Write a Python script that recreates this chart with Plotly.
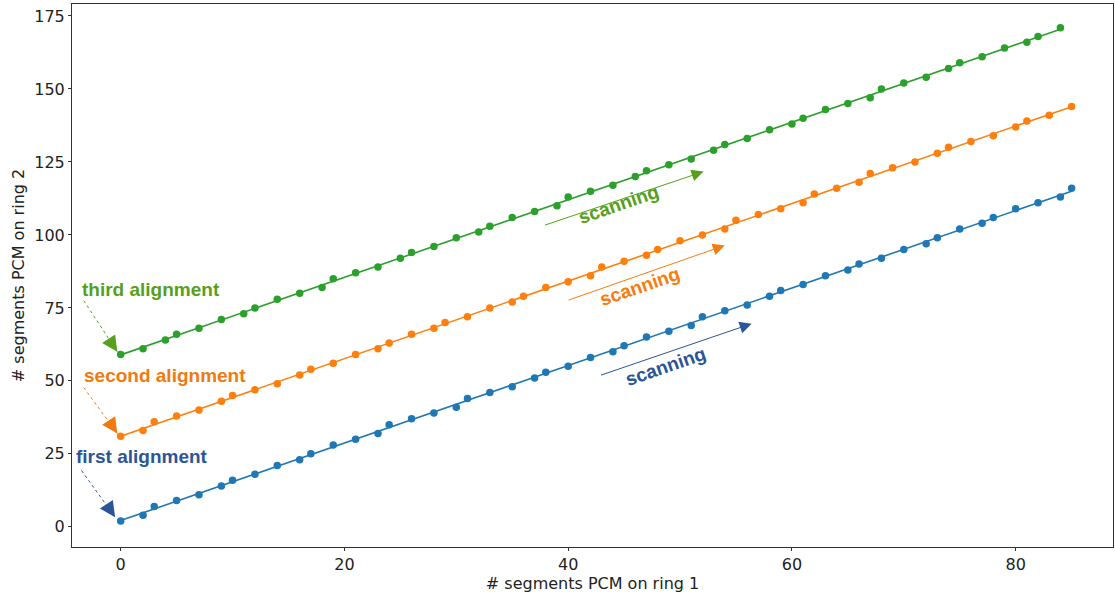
import numpy as np
import plotly.graph_objects as go

# Ring-1 / ring-2 segment counts for three successive alignments
first_x = [0, 2, 3, 5, 7, 9, 10, 12, 14, 16, 17, 19, 21, 23, 24, 26, 28, 30, 31, 33, 35, 37, 38, 40,
           42, 44, 45, 47, 49, 51, 52, 54, 56, 58, 59, 61, 63, 65, 66, 68, 70, 72, 73, 75, 77, 78,
           80, 82, 84, 85]
first_y = [2, 4, 7, 9, 11, 14, 16, 18, 21, 23, 25, 28, 30, 32, 35, 37, 39, 41, 44, 46, 48, 51, 53, 55,
           58, 60, 62, 65, 67, 69, 72, 74, 76, 79, 81, 83, 86, 88, 90, 92, 95, 97, 99, 102, 104, 106,
           109, 111, 113, 116]

second_x = [0, 2, 3, 5, 7, 9, 10, 12, 14, 16, 17, 19, 21, 23, 24, 26, 28, 29, 31, 33, 35, 36, 38, 40,
            42, 43, 45, 47, 48, 50, 52, 54, 55, 57, 59, 61, 62, 64, 66, 67, 69, 71, 73, 74, 76, 78,
            80, 81, 83, 85]
second_y = [31, 33, 36, 38, 40, 43, 45, 47, 49, 52, 54, 56, 59, 61, 63, 66, 68, 70, 72, 75, 77, 79, 82, 84,
            86, 89, 91, 93, 95, 98, 100, 102, 105, 107, 109, 111, 114, 116, 118, 121, 123, 125, 128, 130,
            132, 134, 137, 139, 141, 144]

third_x = [0, 2, 4, 5, 7, 9, 11, 12, 14, 16, 18, 19, 21, 23, 25, 26, 28, 30, 32, 33, 35, 37, 39, 40,
           42, 44, 46, 47, 49, 51, 53, 54, 56, 58, 60, 61, 63, 65, 67, 68, 70, 72, 74, 75, 77, 79,
           81, 82, 84]
third_y = [59, 61, 64, 66, 68, 71, 73, 75, 78, 80, 82, 85, 87, 89, 92, 94, 96, 99, 101, 103, 106, 108, 110, 113,
           115, 117, 120, 122, 124, 126, 129, 131, 133, 136, 138, 140, 143, 145, 147, 150, 152, 154, 157,
           159, 161, 164, 166, 168, 171]

series = [
    ("first", first_x, first_y, "#1f77b4"),
    ("second", second_x, second_y, "#ff7f0e"),
    ("third", third_x, third_y, "#2ca02c"),
]

fig = go.Figure()

for name, xs, ys, color in series:
    xs = np.asarray(xs, float)
    ys = np.asarray(ys, float)
    slope, icpt = np.polyfit(xs, ys, 1)
    fx = np.array([xs.min(), xs.max()])
    fig.add_trace(go.Scatter(x=fx, y=icpt + slope * fx, mode="lines",
                             line=dict(color=color, width=1.6), showlegend=False,
                             hoverinfo="skip"))
    fig.add_trace(go.Scatter(x=xs, y=ys, mode="markers", name=name,
                             marker=dict(color=color, size=7.5), showlegend=False))

LABEL_FONT = "Liberation Sans"

# alignment labels with dashed pointers (head drawn as a short pixel-offset arrow)
labels = [
    ("third alignment", 2.7, 81.3, "#56a01b", (-3.3, 77.5), (-0.3, 60.0)),
    ("second alignment", 4.0, 51.8, "#f07a10", (-3.3, 47.7), (-0.3, 32.0)),
    ("first alignment", 1.9, 24.2, "#2b5597", (-3.5, 19.3), (-0.5, 3.3)),
]
for text, tx, ty, col, (x0, y0), (x1, y1) in labels:
    fig.add_annotation(x=tx, y=ty, text=f"<b>{text}</b>", showarrow=False,
                       font=dict(family=LABEL_FONT, size=19, color=col))
    fig.add_shape(type="line", x0=x0, y0=y0, x1=x1, y1=y1,
                  line=dict(color=col, width=1, dash="dot"))
    fig.add_annotation(x=x1, y=y1, ax=-8, ay=-12, text="", showarrow=True,
                       arrowhead=2, arrowsize=2.6, arrowwidth=1.2, arrowcolor=col,
                       standoff=0)

# scanning arrows
scans = [
    ("scanning", 44.5, 110.3, "#56a01b", (37.8, 103.2), (52.1, 121.7)),
    ("scanning", 46.4, 82.4, "#f57d10", (39.9, 77.5), (54.0, 96.4)),
    ("scanning", 48.7, 54.9, "#2b5597", (42.8, 51.8), (56.4, 69.6)),
]
for text, tx, ty, col, (x0, y0), (x1, y1) in scans:
    fig.add_annotation(x=x1, y=y1, ax=x0, ay=y0, axref="x", ayref="y", text="",
                       showarrow=True, arrowhead=2, arrowsize=2.4, arrowwidth=1,
                       arrowcolor=col, standoff=0)
    fig.add_annotation(x=tx, y=ty, text=f"<b>{text}</b>", showarrow=False, textangle=-19,
                       font=dict(family=LABEL_FONT, size=19, color=col))

axis_common = dict(showgrid=False, zeroline=False, showline=True, mirror=True,
                   linecolor="#333333", linewidth=1, ticks="outside", ticklen=3,
                   tickcolor="#333333",
                   tickfont=dict(family="DejaVu Sans", size=16, color="#222222"),
                   title_font=dict(family="DejaVu Sans", size=16, color="#222222"))

fig.update_xaxes(range=[-4.35, 88.7], tickvals=[0, 20, 40, 60, 80],
                 title_text="# segments PCM on ring 1", title_standoff=0, **axis_common)
fig.update_yaxes(range=[-6.9, 179.1], tickvals=[0, 25, 50, 75, 100, 125, 150, 175],
                 title_text="# segments PCM on ring 2", title_standoff=5, **axis_common)

fig.update_layout(width=1115, height=596, plot_bgcolor="white", paper_bgcolor="white",
                  margin=dict(l=72, r=2, t=4, b=49), showlegend=False)

fig.write_html("out.html")
